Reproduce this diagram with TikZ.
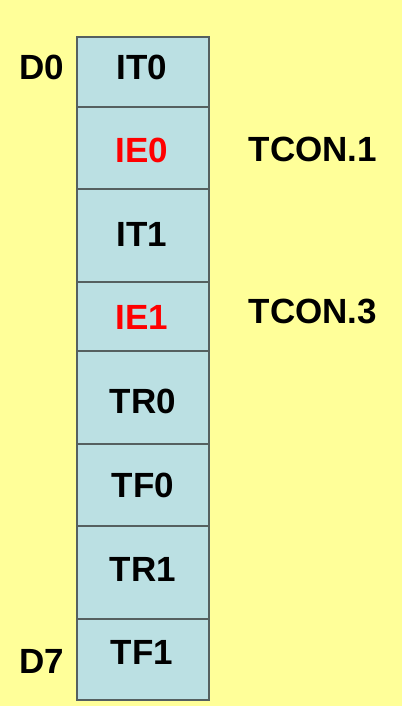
\documentclass[tikz,border=0pt]{standalone}
\usepackage{fontspec}
\setmainfont{Liberation Sans}
\definecolor{bgyellow}{RGB}{255,255,153}
\definecolor{cellfill}{RGB}{187,224,227}
\definecolor{cellline}{RGB}{85,96,96}
\definecolor{redtext}{RGB}{255,0,0}
\begin{document}
\begin{tikzpicture}[x=1pt,y=-1pt,
  cell/.style={draw=cellline, fill=cellfill, line width=2pt, minimum width=132.6pt, inner sep=0pt, anchor=north},
  lbl/.style={font=\bfseries\fontsize{35}{35}\selectfont, inner sep=0pt, anchor=base}]
\fill[bgyellow] (0,0) rectangle (402,706);
\useasboundingbox (0,0) rectangle (402,706);
% cells
\node[cell, minimum height=70pt]   (c0) at (143,35.7)  {};
\node[cell, minimum height=82pt]   (c1) at (143,105.7) {};
\node[cell, minimum height=93pt]   (c2) at (143,187.7) {};
\node[cell, minimum height=69.3pt] (c3) at (143,280.7) {};
\node[cell, minimum height=92.7pt] (c4) at (143,350)   {};
\node[cell, minimum height=82.6pt] (c5) at (143,442.7) {};
\node[cell, minimum height=93pt]   (c6) at (143,525.3) {};
\node[cell, minimum height=80.4pt] (c7) at (143,618.3) {};
% cell texts (baseline = cap centre + 12.5)
\node[lbl] (t0) at (142,79.2)  {IT0};
\node[lbl, text=redtext] (t1) at (142,162.8) {IE0};
\node[lbl] (t2) at (142,246) {IT1};
\node[lbl, text=redtext] (t3) at (142,329.8) {IE1};
\node[lbl] (t4) at (143,413) {TR0};
\node[lbl] (t5) at (143,497.5) {TF0};
\node[lbl] (t6) at (143,581.5) {TR1};
\node[lbl] (t7) at (142,664.5) {TF1};
% side labels
\node[lbl] (d0) at (41.7,79.3)  {D0};
\node[lbl] (d7) at (41.7,673.5) {D7};
\node[lbl] (tc1) at (313,161.8) {TCON.1};
\node[lbl] (tc3) at (313,323.8) {TCON.3};
\end{tikzpicture}
\end{document}
